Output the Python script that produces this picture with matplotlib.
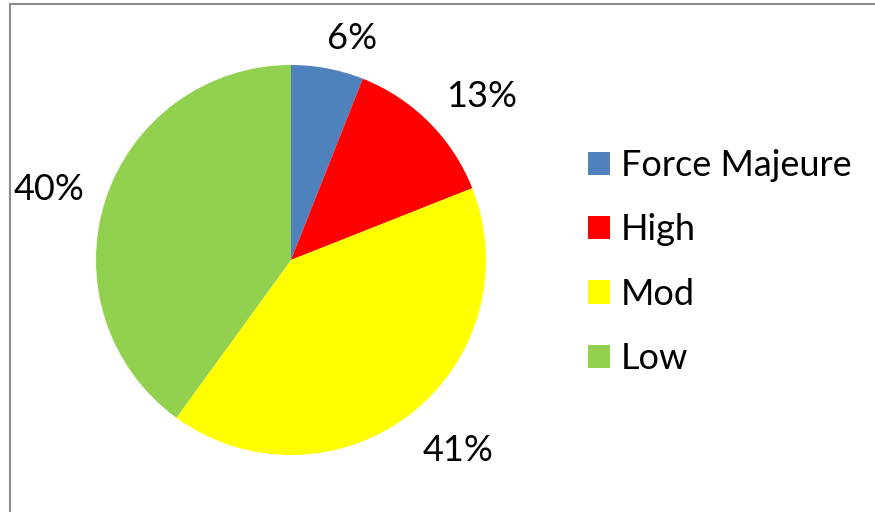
import numpy as np
import matplotlib.pyplot as plt
from matplotlib.patches import Rectangle

# Risk level shares (percent)
categories = ['Force Majeure', 'High', 'Mod', 'Low']
values = [6, 13, 41, 40]
colors = ['#4F81BD', '#FF0000', '#FFFF00', '#92D050']

plt.rcParams['font.family'] = ['Lato', 'DejaVu Sans']

W, H = 875, 512
fig = plt.figure(figsize=(W / 100, H / 100), dpi=100)

# gray outer frame, right and bottom edges fall outside the image
fig.patches.append(Rectangle((10 / W, -0.1), 1.2, 1.1 - 4 / H, transform=fig.transFigure,
                             fill=False, edgecolor='#8c8c8c', linewidth=1.5))

cx, cy, r = 291, 260, 195
ax = fig.add_axes([(cx - r) / W, (H - cy - r) / H, 2 * r / W, 2 * r / H])
wedges, _ = ax.pie(values, colors=colors, startangle=90, counterclock=False,
                   radius=1, wedgeprops=dict(linewidth=0))
ax.set_xlim(-1, 1)
ax.set_ylim(-1, 1)
ax.set_aspect('equal')
ax.axis('off')

# percentage labels outside each wedge (best-fit style offsets)
dist = [1.18, 1.29, 1.30, 1.29]
shift = [-4.6, -4.4, 3.5, 1.8]
for w, v, d, s in zip(wedges, values, dist, shift):
    mid = np.deg2rad((w.theta1 + w.theta2) / 2 + s)
    ax.text(d * np.cos(mid), d * np.sin(mid), f'{v}%', ha='center', va='center',
            fontsize=26, clip_on=False)

fig.legend(wedges, categories, loc='upper left', bbox_to_anchor=(588 / W, 1 - 149 / H),
           frameon=False, fontsize=26, handlelength=0.62, handleheight=0.62,
           handletextpad=0.3, labelspacing=0.87, borderpad=0, borderaxespad=0)

fig.savefig('out.png', dpi=100)
